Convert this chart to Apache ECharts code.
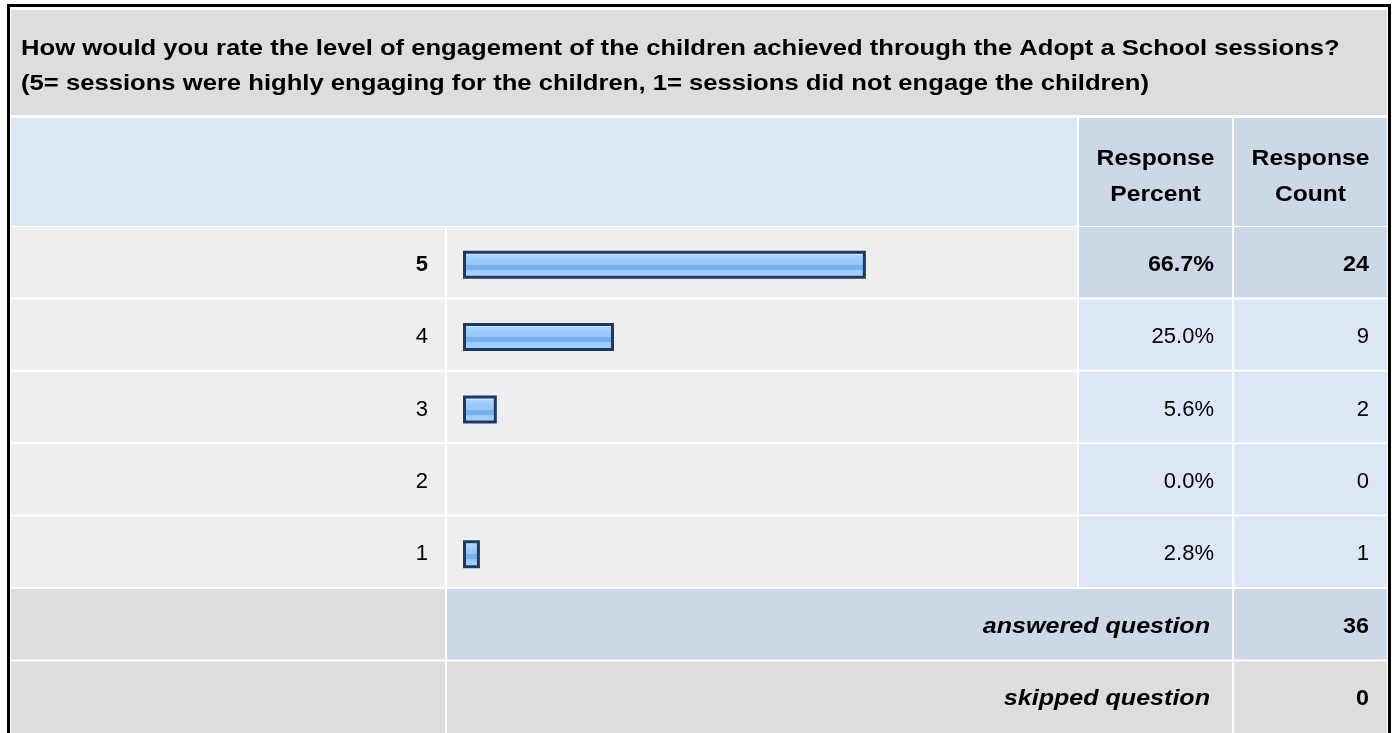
<!DOCTYPE html>
<html>
<head>
<meta charset="utf-8">
<script src="https://cdn.jsdelivr.net/npm/echarts@6/dist/echarts.min.js"></script>
<style>
  html, body { margin: 0; padding: 0; background: #fff; }
  #main { width: 1396px; height: 733px; }
</style>
</head>
<body>
<div id="main"></div>
<script>
const questionLines = [
  "How would you rate the level of engagement of the children achieved through the Adopt a School sessions?",
  "(5= sessions were highly engaging for the children, 1= sessions did not engage the children)"
];
const categories = ["5", "4", "3", "2", "1"];
const percents = [66.7, 25.0, 5.6, 0.0, 2.8];
const counts = [24, 9, 2, 0, 1];
const answered = 36;
const skipped = 0;

const FONT = "Liberation Sans, Arial, sans-serif";
const rowTop = 227, rowStep = 72.4, rowH = 70.4;
const topIdx = percents.indexOf(Math.max(...percents));

let chart = echarts.init(document.getElementById("main"));

function cellRect(x, y, w, h, color) {
  return { type: "rect", shape: { x: x, y: y, width: w, height: h }, style: { fill: color }, silent: true, z: 0 };
}
// text anchored at (x, y); sx stretches it sideways around the anchor
function txt(x, y, text, align, font, sx) {
  return {
    type: "text", x: x, y: y, z: 5, silent: true, scaleX: sx || 1,
    style: { text: text, fill: "#000", align: align, verticalAlign: "middle", font: font }
  };
}

const bold = "bold 22px " + FONT;
let graphics = [];
// title cell
graphics.push(cellRect(11, 10, 1376, 105, "#dddddd"));
graphics.push(txt(21, 48.5, questionLines[0], "left", bold, 1.165));
graphics.push(txt(21, 83.5, questionLines[1], "left", bold, 1.165));
// header
graphics.push(cellRect(11, 118, 1066, 108, "#dce6f4"));
graphics.push(cellRect(1079, 118, 153, 108, "#ccd8e6"));
graphics.push(cellRect(1234, 118, 153, 108, "#ccd8e6"));
graphics.push(txt(1155.5, 159, "Response", "center", bold, 1.12));
graphics.push(txt(1155.5, 195, "Percent", "center", bold, 1.12));
graphics.push(txt(1310.5, 159, "Response", "center", bold, 1.12));
graphics.push(txt(1310.5, 195, "Count", "center", bold, 1.12));

// answer rows
categories.forEach(function (c, i) {
  let y = rowTop + i * rowStep;
  let hi = i === topIdx;
  let valColor = hi ? "#ccd8e6" : "#dce6f4";
  graphics.push(cellRect(11, y, 434, rowH, "#eeeeee"));
  graphics.push(cellRect(447, y, 630, rowH, "#eeeeee"));
  graphics.push(cellRect(1079, y, 153, rowH, valColor));
  graphics.push(cellRect(1234, y, 153, rowH, valColor));
  let f = (hi ? "bold " : "") + "22px " + FONT;
  let sx = hi ? 1.06 : 1;
  graphics.push(txt(1214, y + rowH / 2 + 2.5, percents[i].toFixed(1) + "%", "right", f, sx));
  graphics.push(txt(1369, y + rowH / 2 + 2.5, String(counts[i]), "right", f, sx));
});

// answered / skipped
let ya = rowTop + 5 * rowStep;
let ys = rowTop + 6 * rowStep;
graphics.push(cellRect(11, ya, 434, rowH, "#dddddd"));
graphics.push(cellRect(447, ya, 785, rowH, "#ccd8e6"));
graphics.push(cellRect(1234, ya, 153, rowH, "#ccd8e6"));
graphics.push(cellRect(11, ys, 434, rowH + 2, "#dddddd"));
graphics.push(cellRect(447, ys, 785, rowH + 2, "#dddddd"));
graphics.push(cellRect(1234, ys, 153, rowH + 2, "#dddddd"));
const boldItalic = "italic bold 22px " + FONT;
graphics.push(txt(1210, ya + rowH / 2 + 2.5, "answered question", "right", boldItalic, 1.14));
graphics.push(txt(1369, ya + rowH / 2 + 2.5, String(answered), "right", bold, 1.06));
graphics.push(txt(1210, ys + rowH / 2 + 2.5, "skipped question", "right", boldItalic, 1.14));
graphics.push(txt(1369, ys + rowH / 2 + 2.5, String(skipped), "right", bold, 1.06));

// outer black frame
graphics.push({
  type: "rect", z: 10, silent: true,
  shape: { x: 8.5, y: 5.5, width: 1381, height: 760 },
  style: { fill: "none", stroke: "#000", lineWidth: 3 }
});

const barFill = new echarts.graphic.LinearGradient(0, 0, 0, 1, [
  { offset: 0, color: "#c8e4ff" },
  { offset: 0.15, color: "#c8e4ff" },
  { offset: 0.15, color: "#acd4ff" },
  { offset: 0.3, color: "#9acbff" },
  { offset: 0.5, color: "#96c8fc" },
  { offset: 0.5, color: "#78b0ee" },
  { offset: 0.68, color: "#78b0ee" },
  { offset: 0.68, color: "#98c9fd" },
  { offset: 0.85, color: "#a4d0ff" },
  { offset: 1, color: "#b4d8ff" }
]);

chart.setOption({
  animation: false,
  grid: { left: 463, top: 228.5, width: 604, height: rowStep * 5, containLabel: false },
  xAxis: {
    type: "value", min: 0, max: 100, show: false
  },
  yAxis: {
    type: "category", data: categories, inverse: true,
    axisLine: { show: false }, axisTick: { show: false }, splitLine: { show: false },
    axisLabel: {
      margin: 35, fontSize: 22, fontFamily: FONT, color: "#000",
      formatter: function (v, idx) { return idx === topIdx ? "{b|" + v + "}" : v; },
      rich: { b: { fontWeight: "bold", fontSize: 22, fontFamily: FONT, color: "#000" } }
    }
  },
  series: [{
    type: "bar",
    data: percents.map(function (p) { return p > 0 ? p : null; }),
    barWidth: 28,
    itemStyle: { color: barFill, borderColor: "#1e3a60", borderWidth: 3 },
    z: 3
  }],
  graphic: graphics
});
</script>
</body>
</html>
